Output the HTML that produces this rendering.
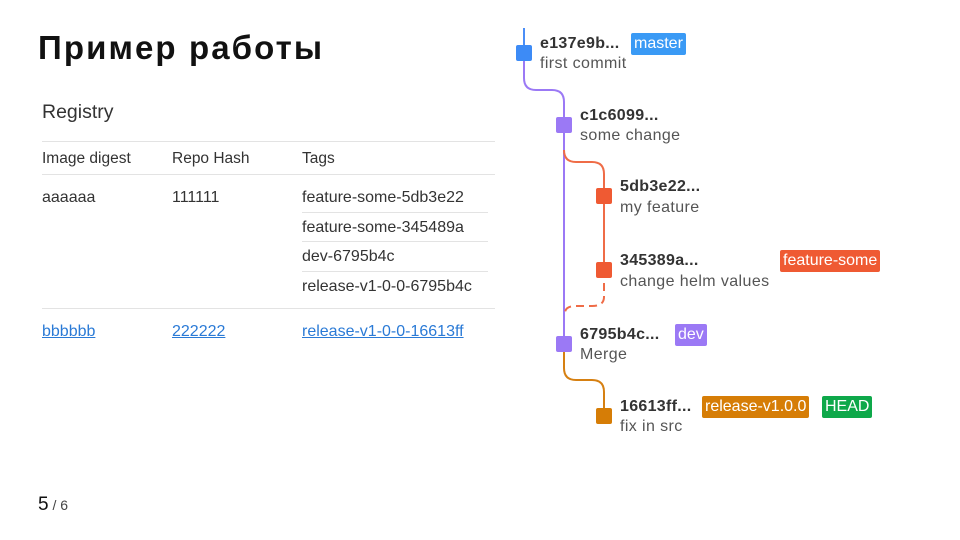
<!DOCTYPE html>
<html><head><meta charset="utf-8"><style>
body{margin:0;width:960px;height:540px;background:#fff;font-family:"Liberation Sans","DejaVu Sans",sans-serif;position:relative;overflow:hidden;color:#222}
.a{position:absolute;white-space:nowrap}
.t{font-size:16px;color:#333}
.th{font-size:15.5px;color:#333}
.h{font-size:16px;font-weight:bold;color:#333;letter-spacing:0.3px}
.s{font-size:16px;color:#555;letter-spacing:0.4px}
.tag{position:absolute;font-size:16px;color:#fff;padding:1px 3px;border-radius:2px;line-height:20px}
.ln{position:absolute;height:1px;background:#e3e3e3}
a{color:#2a7ad6;text-decoration:underline}
</style></head><body>
<div class="a" style="left:38px;top:29px;font-size:33px;color:#111;font-weight:bold;letter-spacing:2.1px">Пример работы</div>
<div class="a" style="left:42px;top:101px;font-size:19.5px;color:#333">Registry</div>
<div class="ln" style="left:42px;top:141px;width:453px"></div>
<div class="a th" style="left:42px;top:150px">Image digest</div>
<div class="a th" style="left:172px;top:150px">Repo Hash</div>
<div class="a th" style="left:302px;top:150px">Tags</div>
<div class="ln" style="left:42px;top:174px;width:453px"></div>
<div class="a t" style="left:42px;top:189px">aaaaaa</div>
<div class="a t" style="left:172px;top:189px">111111</div>
<div class="a t" style="left:302px;top:189px">feature-some-5db3e22</div>
<div class="ln" style="left:302px;top:212px;width:186px"></div>
<div class="a t" style="left:302px;top:219px">feature-some-345489a</div>
<div class="ln" style="left:302px;top:241px;width:186px"></div>
<div class="a t" style="left:302px;top:248px">dev-6795b4c</div>
<div class="ln" style="left:302px;top:271px;width:186px"></div>
<div class="a t" style="left:302px;top:278px">release-v1-0-0-6795b4c</div>
<div class="ln" style="left:42px;top:308px;width:453px"></div>
<div class="a t" style="left:42px;top:323px"><a>bbbbbb</a></div>
<div class="a t" style="left:172px;top:323px"><a>222222</a></div>
<div class="a t" style="left:302px;top:323px"><a>release-v1-0-0-16613ff</a></div>

<svg class="a" style="left:0;top:0" width="960" height="540">
<path d="M524 28 V78 Q524 90 536 90 H552 Q564 90 564 102 V344" stroke="#9b79f5" stroke-width="2" fill="none"/>
<path d="M524 28 V53" stroke="#4b8ef7" stroke-width="2"/>
<path d="M564 150 Q564 162 576 162 H592 Q604 162 604 174 V270" stroke="#ef6c47" stroke-width="2" fill="none"/>
<path d="M604 270 V297 Q604 306 592 306 H576 Q566 306 565 312" stroke="#ef6c47" stroke-width="2" fill="none" stroke-dasharray="8 5"/>
<path d="M564 344 V368 Q564 380 576 380 H592 Q604 380 604 392 V416" stroke="#d68012" stroke-width="2" fill="none"/>
<rect x="516" y="45" width="16" height="16" rx="2" fill="#3d8bf6"/>
<rect x="556" y="117" width="16" height="16" rx="2" fill="#9b79f5"/>
<rect x="596" y="188" width="16" height="16" rx="2" fill="#ef5a33"/>
<rect x="596" y="262" width="16" height="16" rx="2" fill="#ef5a33"/>
<rect x="556" y="336" width="16" height="16" rx="2" fill="#9b79f5"/>
<rect x="596" y="408" width="16" height="16" rx="2" fill="#d67d06"/>
</svg>

<div class="a h" style="left:540px;top:35px">e137e9b...</div>
<div class="a s" style="left:540px;top:55px">first commit</div>
<div class="tag" style="left:631px;top:33px;background:#3a9af5">master</div>
<div class="a h" style="left:580px;top:107px">c1c6099...</div>
<div class="a s" style="left:580px;top:127px">some change</div>
<div class="a h" style="left:620px;top:178px">5db3e22...</div>
<div class="a s" style="left:620px;top:199px">my feature</div>
<div class="a h" style="left:620px;top:252px">345389a...</div>
<div class="a s" style="left:620px;top:273px">change helm values</div>
<div class="tag" style="left:780px;top:250px;background:#ef5a33">feature-some</div>
<div class="a h" style="left:580px;top:326px">6795b4c...</div>
<div class="a s" style="left:580px;top:346px">Merge</div>
<div class="tag" style="left:675px;top:324px;background:#9b79f5">dev</div>
<div class="a h" style="left:620px;top:398px">16613ff...</div>
<div class="a s" style="left:620px;top:418px">fix in src</div>
<div class="tag" style="left:702px;top:396px;background:#d67d06">release-v1.0.0</div>
<div class="tag" style="left:822px;top:396px;background:#0ea84a">HEAD</div>

<div class="a" style="left:38px;top:494px;font-size:19px;color:#111">5<span style="font-size:14px;color:#444"> / 6</span></div>
</body></html>
